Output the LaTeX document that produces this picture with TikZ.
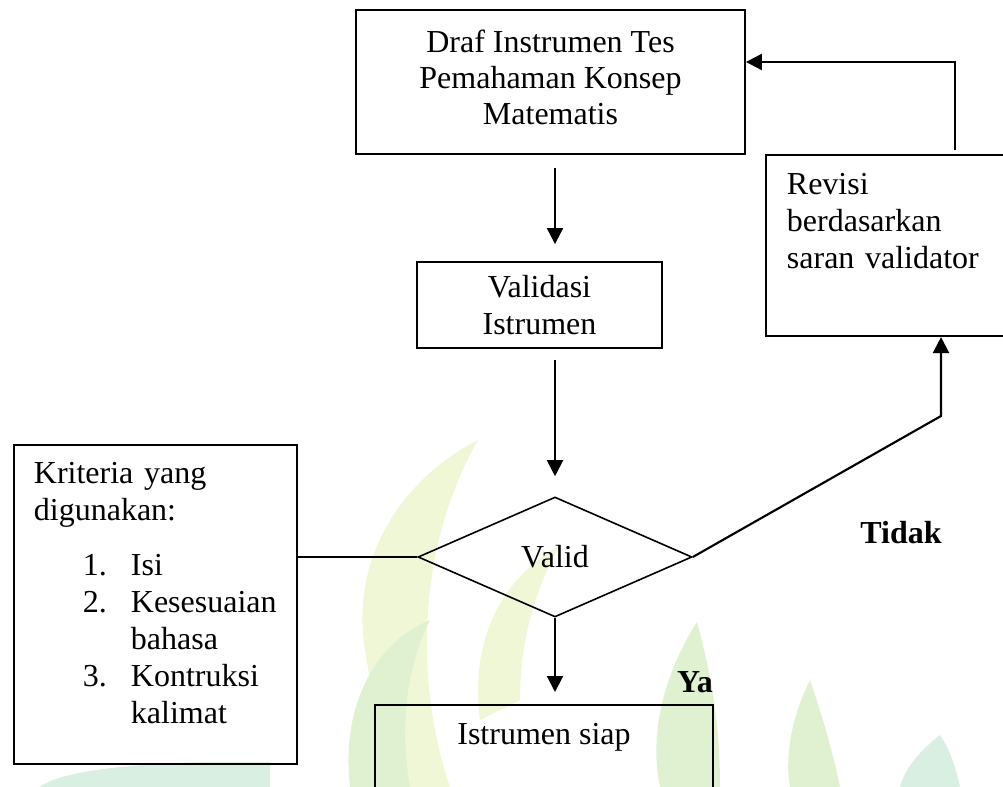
\documentclass[tikz,border=0pt]{standalone}
\usepackage{fontspec}
\setmainfont{Liberation Serif}
\usetikzlibrary{arrows.meta,shapes.geometric}
\definecolor{leafyellow}{HTML}{F0F7D6}
\definecolor{leafgreen}{HTML}{DFF1D0}
\definecolor{leafteal}{HTML}{D8EFE2}
\tikzset{
	box/.style={draw, line width=1.4pt, rectangle},
	arrowline/.style={line width=1.6pt, -{Triangle[length=12pt, width=12pt]}},
	plainline/.style={line width=1.4pt},
	answer/.style={font=\fontsize{24}{27.75}\selectfont\bfseries, inner sep=0pt},
}

\begin{document}
\begin{tikzpicture}[x=0.75pt, y=-0.75pt, font=\fontsize{24}{27.75}\selectfont]
		%%%%% START %%%%%
		\useasboundingbox (0, 0) rectangle (1003, 787);
		
		% faint logo behind the lower part
		\fill[leafyellow] (478, 440) .. controls (400, 480) and (350, 560) .. (365, 650) .. controls (372, 700) and (390, 740) .. (400, 787) -- (450, 787) .. controls (420, 700) and (410, 560) .. (478, 440) -- cycle;
		\fill[leafgreen] (350, 787) .. controls (340, 700) and (380, 640) .. (430, 620) .. controls (405, 670) and (400, 730) .. (410, 787) -- cycle;
		\fill[leafyellow] (560, 545) .. controls (500, 580) and (470, 640) .. (480, 720) -- (520, 700) .. controls (520, 640) and (535, 590) .. (560, 545) -- cycle;
		\fill[leafgreen] (697, 622) .. controls (660, 680) and (650, 740) .. (660, 787) -- (720, 787) .. controls (720, 720) and (710, 670) .. (697, 622) -- cycle;
		\fill[leafgreen] (810, 680) .. controls (790, 720) and (785, 760) .. (790, 787) -- (840, 787) .. controls (830, 740) and (820, 710) .. (810, 680) -- cycle;
		\fill[leafteal] (940, 735) .. controls (915, 755) and (905, 770) .. (900, 787) -- (960, 787) .. controls (955, 765) and (950, 750) .. (940, 735) -- cycle;
		\fill[leafteal] (40, 787) .. controls (60, 770) and (150, 760) .. (270, 762) -- (270, 787) -- cycle;
		
		% boxes
		\node[box, minimum width=291.75pt, minimum height=108pt, align=center, font=\fontsize{24}{27}\selectfont] (draf) at (550.5, 82) {Draf Instrumen Tes\\Pemahaman Konsep\\Matematis\\[-20.25pt]};
		\node[box, minimum width=183.75pt, minimum height=64.5pt, align=center] (validasi) at (539.5, 305) {Validasi\\Istrumen};
		\node[draw, diamond, line width=1.2pt, inner sep=0pt, minimum width=205.5pt, minimum height=90pt] (valid) at (555, 557) {Valid};
		\node[box, anchor=north west, text width=156pt, inner xsep=15.75pt, inner ysep=13.5pt, align=left, text depth=93pt] (revisi) at (765, 154) {Revisi\\berdasarkan\\saran validator};
		\node[box, anchor=north west, text width=182.25pt, inner xsep=15pt, inner ysep=12.75pt, align=left, text depth=198pt] (kriteria) at (13, 444) {Kriteria yang\\digunakan:\\[13.5pt]
			\hspace*{36.75pt}\makebox[36pt][l]{1.}Isi\\
			\hspace*{36.75pt}\makebox[36pt][l]{2.}\mbox{Kesesuaian}\\
			\hspace*{72.75pt}bahasa\\
			\hspace*{36.75pt}\makebox[36pt][l]{3.}Kontruksi\\
			\hspace*{72.75pt}kalimat};
		\node[box, anchor=north, minimum width=253.5pt, inner ysep=13.5pt, text depth=52.5pt] (siap) at (544, 704) {Istrumen siap};
		
		\node[answer] (tidak) at (901, 533) {Tidak};
		\node[answer] (ya) at (695, 682) {Ya};
		
		% connectors
		\draw[arrowline, shorten <=9.75pt, shorten >=12.75pt] (draf.south -| valid.north) -- (validasi.north -| valid.north);
		\draw[arrowline, shorten <=8.25pt, shorten >=15pt] (validasi.south -| valid.north) -- (valid.north);
		\draw[arrowline, shorten >=9pt] (valid.south) -- (siap.north -| valid.south);
		\draw[plainline] (kriteria.east |- valid.west) -- (valid.west);
		
		\coordinate (bend) at (941, 416);
		\draw[arrowline] (valid.east) -- (bend) -- (bend |- revisi.south);
		
		\coordinate (corner) at (955, 62);
		\draw[arrowline, shorten <=3pt] (corner |- revisi.north) -- (corner) -- (corner -| draf.east);
		
		%%%%% END %%%%%
	\end{tikzpicture}
\end{document}
